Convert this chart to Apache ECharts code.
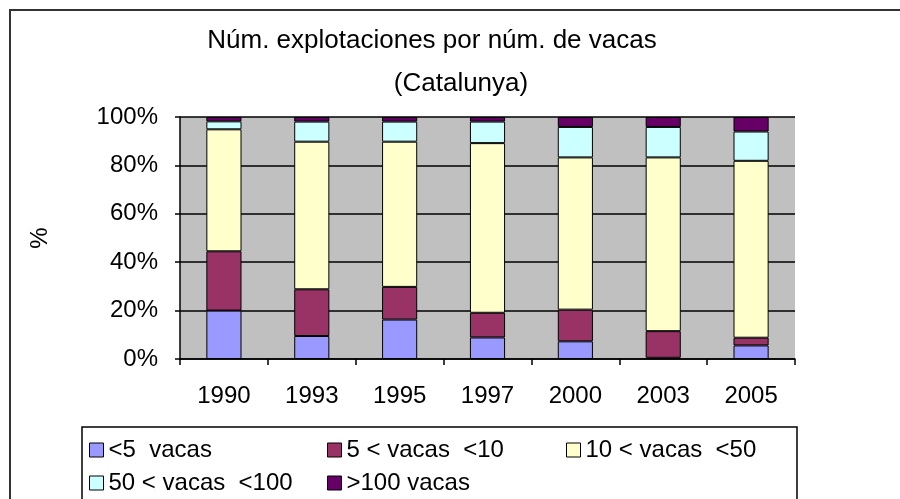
<!DOCTYPE html>
<html>
<head>
<meta charset="utf-8">
<script src="https://cdn.jsdelivr.net/npm/echarts@6/dist/echarts.min.js"></script>
<style>
html,body{margin:0;padding:0;background:#fff;}
#chart{width:900px;height:499px;}
</style>
</head>
<body>
<div id="chart"></div>
<script>
var years = ['1990', '1993', '1995', '1997', '2000', '2003', '2005'];
var menos5 = [20, 9.5, 16.3, 8.9, 7.3, 0.5, 5.6];
var de5a10 = [24.5, 19.3, 13.5, 10.2, 13.1, 11, 3.2];
var de10a50 = [50.4, 61, 60, 70.1, 62.9, 71.8, 73.1];
var de50a100 = [3.3, 8.3, 8.3, 8.9, 12.6, 12.6, 12.1];
var mas100 = [1.8, 1.9, 1.9, 1.9, 4.1, 4.1, 6];
var names = ['<5  vacas', '5 < vacas  <10', '10 < vacas  <50', '50 < vacas  <100', '>100 vacas'];
var colors = ['#9999FF', '#993366', '#FFFFCC', '#CCFFFF', '#660066'];
var values = [menos5, de5a10, de10a50, de50a100, mas100];

var font = 'Liberation Sans, Arial, sans-serif';
var chart = echarts.init(document.getElementById('chart'));

var series = [];
for (var i = 0; i < names.length; i++) {
  series.push({
    name: names[i],
    type: 'bar',
    stack: 'total',
    barWidth: '40%',
    data: values[i],
    itemStyle: {color: colors[i], borderColor: '#000', borderWidth: 1},
    emphasis: {disabled: true}
  });
}

// una leyenda por elemento para colocarlos como en el original
var legendPos = [[89, 438], [327, 438], [566, 438], [89, 471], [327, 471]];
var legends = names.map(function (n, i) {
  return {
    data: [n],
    left: legendPos[i][0],
    top: legendPos[i][1],
    padding: 0,
    icon: 'rect',
    itemWidth: 14,
    itemHeight: 14,
    itemGap: 4,
    selectedMode: false,
    itemStyle: {borderColor: '#000', borderWidth: 1},
    textStyle: {fontFamily: font, fontSize: 24, color: '#000', padding: [0, 0, 0, 0]}
  };
});

var option = {
  animation: false,
  backgroundColor: '#fff',
  color: colors,
  title: [
    {text: 'Núm. explotaciones por núm. de vacas', left: 432, top: 28, padding: 0, textAlign: 'center',
     textStyle: {fontFamily: font, fontSize: 26, fontWeight: 'normal', color: '#000'}},
    {text: '(Catalunya)', left: 461, top: 71, padding: 0, textAlign: 'center',
     textStyle: {fontFamily: font, fontSize: 26, fontWeight: 'normal', color: '#000'}}
  ],
  legend: legends,
  grid: {left: 180, right: 105, top: 117, bottom: 140, show: true, backgroundColor: '#C0C0C0', borderWidth: 0},
  xAxis: {
    type: 'category',
    data: years,
    axisLine: {lineStyle: {color: '#000', width: 1.5}},
    axisTick: {show: true, length: 6, lineStyle: {color: '#000', width: 1.5}},
    axisLabel: {fontFamily: font, fontSize: 24, color: '#000', margin: 25}
  },
  yAxis: {
    type: 'value',
    min: 0,
    max: 100,
    interval: 20,
    name: '%',
    nameLocation: 'middle',
    nameGap: 128,
    nameRotate: 90,
    nameTextStyle: {fontFamily: font, fontSize: 24, color: '#000'},
    axisLine: {show: true, lineStyle: {color: '#000', width: 1.5}},
    axisTick: {show: true, length: 5, lineStyle: {color: '#000', width: 1.5}},
    splitLine: {lineStyle: {color: '#000', width: 1.5}},
    axisLabel: {formatter: '{value}%', fontFamily: font, fontSize: 24, color: '#000', margin: 22}
  },
  graphic: [
    {type: 'rect', shape: {x: 10, y: 10, width: 900, height: 500}, style: {fill: 'none', stroke: '#333', lineWidth: 2}, silent: true},
    {type: 'rect', shape: {x: 82, y: 427, width: 715, height: 100}, style: {fill: 'none', stroke: '#000', lineWidth: 1.5}, silent: true}
  ],
  series: series
};
chart.setOption(option);
</script>
</body>
</html>
